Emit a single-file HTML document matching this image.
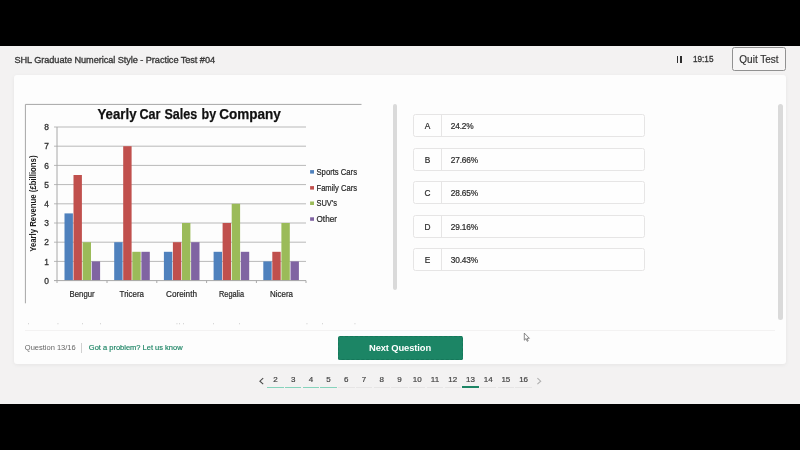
<!DOCTYPE html>
<html lang="en">
<head>
<meta charset="utf-8">
<title>SHL Graduate Numerical Style - Practice Test #04</title>
<style>
*{box-sizing:border-box;margin:0;padding:0}
html,body{width:800px;height:450px;overflow:hidden;background:#000}
body{font-family:"Liberation Sans",sans-serif;color:#3c3c3c;position:relative}
.app{position:absolute;left:0;top:45.5px;width:800px;height:358.5px;background:#f3f2f2}
.abs{position:absolute;white-space:nowrap}
.hdr{left:14.4px;top:54.8px;font-size:9.2px;line-height:11px;letter-spacing:-0.066px;color:#3a3a3a;-webkit-text-stroke:0.35px #3a3a3a}
.pause{left:676.5px;top:55.8px;width:5px;height:6.8px}
.pause i{position:absolute;top:0;width:1.5px;height:6.8px;background:#2e2e2e}
.time{left:692.6px;top:53.7px;font-size:9.2px;line-height:11px;color:#333;-webkit-text-stroke:0.3px #333;transform:scaleX(0.89);transform-origin:0 0}
.quit{left:732.2px;top:47px;width:53.6px;height:23.6px;border:1px solid #919191;border-radius:2.5px;background:#f7f6f6;font-size:10px;line-height:23.6px;text-align:center;color:#2f2f2f;-webkit-text-stroke:0.15px #2f2f2f}
.card{left:14.1px;top:75.1px;width:771.6px;height:289px;background:#fdfdfd;border-radius:3px;box-shadow:0 1px 4px rgba(0,0,0,.06)}
.sb{width:4.6px;border-radius:2.5px;background:#dadada}
.hr{left:25px;top:329.7px;width:750.4px;height:1px;background:#f3f2f2}
.opt{left:413px;width:232.3px;height:23.2px;border:1px solid #e6e5e5;border-radius:2.5px;background:#fefefe}
.opt b{position:absolute;left:0;top:0;width:28.2px;height:21.2px;border-right:1px solid #e6e5e5;font-weight:400;font-size:8.3px;line-height:22.8px;text-align:center;color:#2a2a2a;-webkit-text-stroke:0.2px #2a2a2a}
.opt span{position:absolute;left:36.8px;top:0;font-size:8.3px;letter-spacing:-0.18px;line-height:22.8px;color:#2a2a2a;-webkit-text-stroke:0.2px #2a2a2a}
.q{left:24.8px;top:342.9px;font-size:7.5px;line-height:10px;color:#666}
.vd{left:81.4px;top:343px;width:1px;height:10.2px;background:#d0d0d0}
.prob{left:88.8px;top:342.9px;font-size:7.5px;line-height:10px;color:#1c8464;-webkit-text-stroke:0.15px #1c8464}
.next{left:337.5px;top:336.3px;width:125px;height:23.3px;border-radius:2px;background:#1c8565;color:#fff;font-size:9.4px;font-weight:700;letter-spacing:-0.12px;line-height:23.6px;text-align:center;outline:1px dashed #16775a;outline-offset:-1px}
.pg{top:375.4px;width:17px;text-align:center;font-size:8px;line-height:10px;color:#444;-webkit-text-stroke:0.2px #444}
.ul{top:386.6px;width:16.4px;height:1px;background:#e6e5e5}
.ul.done{background:#86d3bc}
.ul.cur{background:#1d8565;height:1.3px;top:386.4px}
</style>
</head>
<body>
<div class="app"></div>
<div class="abs hdr" id="hdr">SHL Graduate Numerical Style - Practice Test #04</div>
<div class="abs pause"><i style="left:0"></i><i style="right:0"></i></div>
<div class="abs time" id="time">19:15</div>
<div class="abs quit" id="quit">Quit Test</div>

<div class="abs card"></div>

<!-- chart -->
<svg class="abs" id="chart" style="left:0;top:75px" width="400" height="260" viewBox="0 75 400 260" font-family="Liberation Sans, sans-serif">
  <path d="M25.4 303.3V104.4H361.5" fill="none" stroke="#a6a6a6" stroke-width="1"/>
  <g stroke="#b9b9b9" stroke-width="1">
    <path d="M54 127H306M54 146.2H306M54 165.4H306M54 184.6H306M54 203.8H306M54 223H306M54 242.2H306M54 261.4H306"/>
  </g>
  <g>
    <g fill="#4f81bd">
      <rect x="64.5" y="213.4" width="8.4" height="67.2"/>
      <rect x="114.2" y="242.2" width="8.4" height="38.4"/>
      <rect x="163.9" y="251.8" width="8.4" height="28.8"/>
      <rect x="213.6" y="251.8" width="8.4" height="28.8"/>
      <rect x="263.3" y="261.4" width="8.4" height="19.2"/>
    </g>
    <g fill="#c0504d">
      <rect x="73.5" y="175" width="8.4" height="105.6"/>
      <rect x="123.2" y="146.2" width="8.4" height="134.4"/>
      <rect x="172.9" y="242.2" width="8.4" height="38.4"/>
      <rect x="222.6" y="223" width="8.4" height="57.6"/>
      <rect x="272.3" y="251.8" width="8.4" height="28.8"/>
    </g>
    <g fill="#9bbb59">
      <rect x="82.6" y="242.2" width="8.4" height="38.4"/>
      <rect x="132.3" y="251.8" width="8.4" height="28.8"/>
      <rect x="182" y="223" width="8.4" height="57.6"/>
      <rect x="231.7" y="203.8" width="8.4" height="76.8"/>
      <rect x="281.4" y="223" width="8.4" height="57.6"/>
    </g>
    <g fill="#8064a2">
      <rect x="91.7" y="261.4" width="8.4" height="19.2"/>
      <rect x="141.4" y="251.8" width="8.4" height="28.8"/>
      <rect x="191.1" y="242.2" width="8.4" height="38.4"/>
      <rect x="240.8" y="251.8" width="8.4" height="28.8"/>
      <rect x="290.5" y="261.4" width="8.4" height="19.2"/>
    </g>
  </g>
  <path d="M57 127V283M54 280.6H306M107 280.6V283M156.8 280.6V283M206.6 280.6V283M256.4 280.6V283M306 280.6V283" fill="none" stroke="#a8a8a8" stroke-width="1"/>
  <g id="ttl" font-size="14.8" font-weight="700" fill="#111" stroke="#111" stroke-width="0.25">
    <text x="97.5" y="119.4" textLength="39" lengthAdjust="spacingAndGlyphs">Yearly</text>
    <text x="139.5" y="119.4" textLength="21" lengthAdjust="spacingAndGlyphs">Car</text>
    <text x="164.4" y="119.4" textLength="32.8" lengthAdjust="spacingAndGlyphs">Sales</text>
    <text x="201.6" y="119.4" textLength="14.6" lengthAdjust="spacingAndGlyphs">by</text>
    <text x="219.2" y="119.4" textLength="61.6" lengthAdjust="spacingAndGlyphs">Company</text>
  </g>
  <g font-size="8.4" fill="#333" stroke="#333" stroke-width="0.3" text-anchor="middle" transform="translate(0.6,0.2)">
    <text x="46" y="130">8</text><text x="46" y="149.2">7</text><text x="46" y="168.4">6</text><text x="46" y="187.6">5</text>
    <text x="46" y="206.8">4</text><text x="46" y="226">3</text><text x="46" y="245.2">2</text><text x="46" y="264.4">1</text><text x="46" y="283.6">0</text>
  </g>
  <text id="yl" transform="translate(36.2,251.8) rotate(-90)" font-size="8.3" font-weight="700" fill="#1c1c1c" textLength="96.3" lengthAdjust="spacingAndGlyphs">Yearly Revenue (£billions)</text>
  <g font-size="8.6" fill="#262626" stroke="#262626" stroke-width="0.2" text-anchor="middle">
    <text x="82.1" y="297" textLength="25" lengthAdjust="spacingAndGlyphs">Bengur</text>
    <text x="131.8" y="297" textLength="24.4" lengthAdjust="spacingAndGlyphs">Tricera</text>
    <text x="181.5" y="297" textLength="31" lengthAdjust="spacingAndGlyphs">Coreinth</text>
    <text x="231.5" y="297" textLength="25" lengthAdjust="spacingAndGlyphs">Regalia</text>
    <text x="281.5" y="297" textLength="23" lengthAdjust="spacingAndGlyphs">Nicera</text>
  </g>
  <g>
    <rect x="310.1" y="170.1" width="3.9" height="3.5" fill="#4f81bd"/>
    <rect x="310.1" y="186.1" width="3.9" height="3.5" fill="#c0504d"/>
    <rect x="310.1" y="201.5" width="3.9" height="3.5" fill="#9bbb59"/>
    <rect x="310.1" y="217.3" width="3.9" height="3.5" fill="#8064a2"/>
  </g>
  <g font-size="8.6" fill="#262626" stroke="#262626" stroke-width="0.2">
    <text x="316.5" y="174.8" textLength="40.5" lengthAdjust="spacingAndGlyphs">Sports Cars</text>
    <text x="316.5" y="190.6" textLength="40.5" lengthAdjust="spacingAndGlyphs">Family Cars</text>
    <text x="316.5" y="206.4" textLength="20.5" lengthAdjust="spacingAndGlyphs">SUV's</text>
    <text x="316.5" y="222.2" textLength="20.5" lengthAdjust="spacingAndGlyphs">Other</text>
  </g>
  <g fill="#b9b9b9"><rect x="28" y="323.4" width="0.9" height="0.8"/><rect x="57.5" y="323.4" width="0.9" height="0.8"/><rect x="82" y="323.4" width="0.9" height="0.8"/><rect x="100" y="323.4" width="0.9" height="0.8"/><rect x="176.5" y="323.4" width="0.9" height="0.8"/><rect x="179" y="323.4" width="0.9" height="0.8"/><rect x="183" y="323.4" width="0.9" height="0.8"/><rect x="213" y="323.4" width="0.9" height="0.8"/><rect x="239" y="323.4" width="0.9" height="0.8"/><rect x="306.5" y="323.4" width="0.9" height="0.8"/><rect x="322" y="323.4" width="0.9" height="0.8"/><rect x="354.5" y="323.4" width="0.9" height="0.8"/></g>
</svg>

<div class="abs sb" style="left:392.7px;top:103.8px;height:186px;width:4.7px"></div>
<div class="abs sb" style="left:778.3px;top:104px;height:216.3px"></div>
<div class="abs hr"></div>

<div class="abs opt" style="top:114.3px"><b>A</b><span>24.2%</span></div>
<div class="abs opt" style="top:147.8px"><b>B</b><span>27.66%</span></div>
<div class="abs opt" style="top:181.3px"><b>C</b><span>28.65%</span></div>
<div class="abs opt" style="top:214.8px"><b>D</b><span>29.16%</span></div>
<div class="abs opt" style="top:248.3px"><b>E</b><span>30.43%</span></div>

<div class="abs q" id="q">Question 13/16</div>
<div class="abs vd"></div>
<div class="abs prob" id="prob">Got a problem? Let us know</div>
<div class="abs next" id="next">Next Question</div>

<svg class="abs" style="left:523px;top:332px" width="9" height="11" viewBox="0 0 9 11"><path d="M1.3 1.1V8.2L3 6.6L4.2 9.3L5.2 8.9L4.1 6.3H6.4Z" fill="#fdfdfd" stroke="#5a5a5a" stroke-width="0.7" stroke-linejoin="round"/></svg>
<div id="pager">
<svg class="abs" style="left:258px;top:376px" width="8" height="10" viewBox="0 0 8 10"><path d="M5.2 2.2L1.9 5.2L5.2 8.2" fill="none" stroke="#4a4a4a" stroke-width="1.1"/></svg>
<div class="abs pg" style="left:266.90px">2</div><div class="abs ul done" style="left:267.20px"></div>
<div class="abs pg" style="left:284.63px">3</div><div class="abs ul done" style="left:284.93px"></div>
<div class="abs pg" style="left:302.36px">4</div><div class="abs ul done" style="left:302.66px"></div>
<div class="abs pg" style="left:320.09px">5</div><div class="abs ul done" style="left:320.39px"></div>
<div class="abs pg" style="left:337.82px">6</div><div class="abs ul " style="left:338.12px"></div>
<div class="abs pg" style="left:355.55px">7</div><div class="abs ul " style="left:355.85px"></div>
<div class="abs pg" style="left:373.28px">8</div><div class="abs ul " style="left:373.58px"></div>
<div class="abs pg" style="left:391.01px">9</div><div class="abs ul " style="left:391.31px"></div>
<div class="abs pg" style="left:408.74px">10</div><div class="abs ul " style="left:409.04px"></div>
<div class="abs pg" style="left:426.47px">11</div><div class="abs ul " style="left:426.77px"></div>
<div class="abs pg" style="left:444.20px">12</div><div class="abs ul " style="left:444.50px"></div>
<div class="abs pg" style="left:461.93px">13</div><div class="abs ul cur" style="left:462.23px"></div>
<div class="abs pg" style="left:479.66px">14</div><div class="abs ul " style="left:479.96px"></div>
<div class="abs pg" style="left:497.39px">15</div><div class="abs ul " style="left:497.69px"></div>
<div class="abs pg" style="left:515.12px">16</div><div class="abs ul " style="left:515.42px"></div>
<svg class="abs" style="left:535px;top:376px" width="8" height="10" viewBox="0 0 8 10"><path d="M2.4 2.2L5.7 5.2L2.4 8.2" fill="none" stroke="#b0b0b0" stroke-width="1.1"/></svg>
</div>
</body>
</html>
